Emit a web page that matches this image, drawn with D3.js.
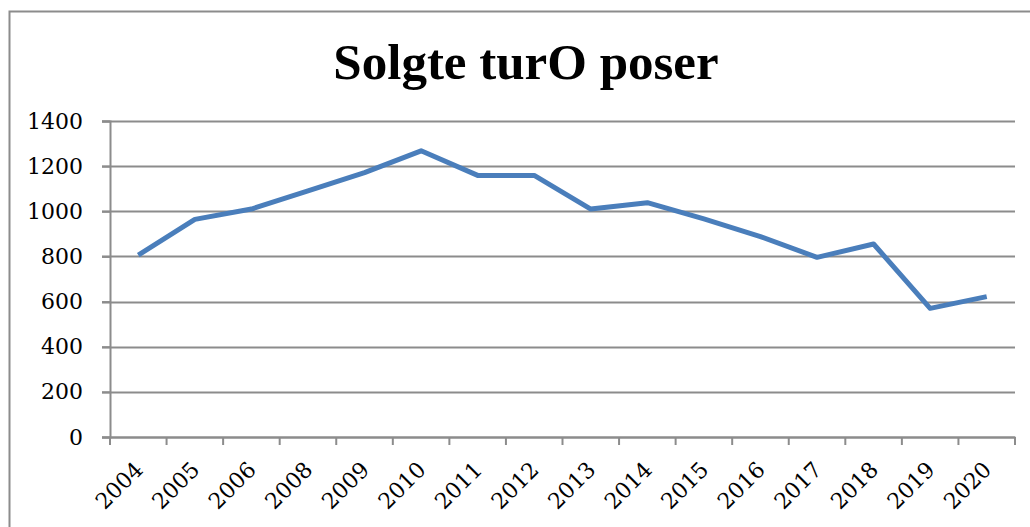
<!DOCTYPE html>
<html>
<head>
<meta charset="utf-8">
<script src="https://cdn.jsdelivr.net/npm/d3@7"></script>
<style>
  body { margin: 0; background: #fff; }
  text { font-family: "DejaVu Serif", serif; }
</style>
</head>
<body>
<div id="chart"></div>
<script>
// chart data
var years = ["2004", "2005", "2006", "2008", "2009", "2010", "2011", "2012",
             "2013", "2014", "2015", "2016", "2017", "2018", "2019", "2020"];
var sold = [806, 964, 1010, 1090, 1171, 1268, 1159, 1159,
            1010, 1038, 966, 888, 796, 855, 570, 622];
var yTicks = [0, 200, 400, 600, 800, 1000, 1200, 1400];

var svgWidth = 1030;
var svgHeight = 527;

var chartMargin = { top: 121, right: 15, bottom: 90, left: 110 };
var chartWidth = svgWidth - chartMargin.left - chartMargin.right;
var chartHeight = svgHeight - chartMargin.top - chartMargin.bottom;

var svg = d3.select("#chart")
  .append("svg")
  .attr("width", svgWidth)
  .attr("height", svgHeight);

// outer frame
svg.append("rect")
  .attr("x", 9.5)
  .attr("y", 11.5)
  .attr("width", 1040)
  .attr("height", 540)
  .attr("fill", "none")
  .attr("stroke", "#8c8c8c")
  .attr("stroke-width", 2);

// title
svg.append("text")
  .attr("x", 526)
  .attr("y", 79)
  .attr("text-anchor", "middle")
  .style("font-family", "Liberation Serif, serif")
  .style("font-size", "51px")
  .style("font-weight", "bold")
  .text("Solgte turO poser");

var chartGroup = svg.append("g")
  .attr("transform", `translate(${chartMargin.left}, ${chartMargin.top})`);

var xScale = d3.scaleBand()
  .domain(years)
  .range([0, chartWidth]);

var yScale = d3.scaleLinear()
  .domain([0, 1400])
  .range([chartHeight, 0]);

// gridlines
chartGroup.append("g")
  .selectAll("line")
  .data(yTicks)
  .enter()
  .append("line")
  .attr("x1", -8)
  .attr("x2", chartWidth)
  .attr("y1", d => Math.round(yScale(d)) + 0.5)
  .attr("y2", d => Math.round(yScale(d)) + 0.5)
  .attr("stroke", "#8c8c8c")
  .attr("stroke-width", 2);

// y axis
var leftAxis = d3.axisLeft(yScale)
  .tickValues(yTicks)
  .tickFormat(d3.format("d"))
  .tickSize(8)
  .tickPadding(19);

var yAxisG = chartGroup.append("g").call(leftAxis);
yAxisG.select(".domain").attr("stroke", "#8c8c8c").attr("stroke-width", 2);
yAxisG.selectAll(".tick line").attr("stroke", "#8c8c8c").attr("stroke-width", 2);
yAxisG.selectAll("text")
  .style("font-size", "22px")
  .style("font-family", "DejaVu Serif, serif")
  .attr("fill", "#000");

// x axis with ticks at band edges
var bottomAxis = d3.axisBottom(xScale)
  .tickSize(0)
  .tickSizeOuter(0);

var xAxisG = chartGroup.append("g")
  .attr("transform", `translate(0, ${chartHeight})`)
  .call(bottomAxis);
xAxisG.select(".domain").attr("stroke", "#8c8c8c").attr("stroke-width", 2);
xAxisG.selectAll("text")
  .style("font-size", "22px")
  .style("font-family", "DejaVu Serif, serif")
  .attr("fill", "#000")
  .attr("text-anchor", "end")
  .attr("dy", null)
  .attr("y", 0)
  .attr("transform", "translate(6, 34) rotate(-45)");

var edges = years.map(d => xScale(d)).concat([chartWidth]);
xAxisG.selectAll(".edge")
  .data(edges)
  .enter()
  .append("line")
  .attr("x1", d => d)
  .attr("x2", d => d)
  .attr("y1", 0)
  .attr("y2", 8)
  .attr("stroke", "#8c8c8c")
  .attr("stroke-width", 2);

// line
var line = d3.line()
  .x((d, i) => xScale(years[i]) + xScale.bandwidth() / 2)
  .y(d => yScale(d));

chartGroup.append("path")
  .datum(sold)
  .attr("d", line)
  .attr("fill", "none")
  .attr("stroke", "#4a7ebb")
  .attr("stroke-width", 5)
  .attr("stroke-linejoin", "round");
</script>
</body>
</html>
